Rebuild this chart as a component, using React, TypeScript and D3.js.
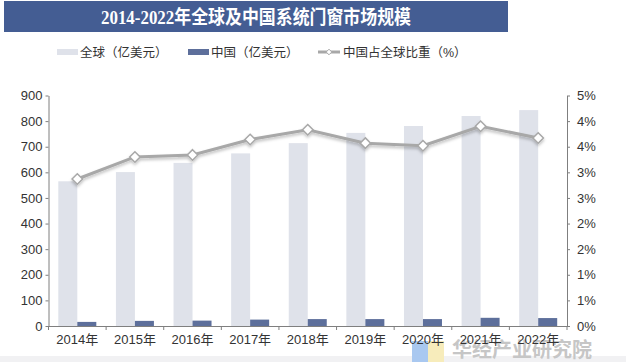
import { useEffect, useRef } from "react";
import * as d3 from "d3";

const years = ["2014年", "2015年", "2016年", "2017年", "2018年", "2019年", "2020年", "2021年", "2022年"];
const globalSize = [565, 601, 637, 674, 714, 754, 781, 820, 843];
const chinaSize = [16, 20, 21, 25, 27, 27, 27, 32, 31];
const chinaShare = [2.87, 3.3, 3.34, 3.64, 3.83, 3.57, 3.52, 3.9, 3.67];
const leftTicks = [0, 100, 200, 300, 400, 500, 600, 700, 800, 900];
const rightTicks = [0, 0.5, 1, 1.5, 2, 2.5, 3, 3.5, 4, 4.5];

const W = 626;
const H = 362;

export default function App() {
  const ref = useRef<SVGSVGElement | null>(null);

  useEffect(() => {
    if (!ref.current) return;
    const svg = d3.select(ref.current);
    svg.selectAll("*").remove();

    const margin = { top: 95.5, right: 59, bottom: 36, left: 48.5 };
    const cjk = "Liberation Sans, 'Noto Sans CJK SC', sans-serif";

    const defs = svg.append("defs");
    const f = defs
      .append("filter")
      .attr("id", "sh")
      .attr("x", "-10%")
      .attr("y", "-50%")
      .attr("width", "120%")
      .attr("height", "200%");
    f.append("feDropShadow")
      .attr("dx", 0)
      .attr("dy", 2)
      .attr("stdDeviation", 1.5)
      .attr("flood-color", "#000")
      .attr("flood-opacity", 0.25);

    svg.append("rect").attr("width", W).attr("height", H).attr("fill", "#fff");
    svg.append("rect").attr("x", 0).attr("y", 356).attr("width", W).attr("height", 6).attr("fill", "#f1f1f3");

    // title bar
    svg.append("rect").attr("x", 4).attr("y", 1).attr("width", 504).attr("height", 31).attr("fill", "#445d93");
    svg
      .append("text")
      .attr("x", 256)
      .attr("y", 24)
      .attr("text-anchor", "middle")
      .attr("fill", "#fff")
      .attr("font-size", 19)
      .attr("font-weight", "bold")
      .attr("font-family", "'Liberation Serif', 'Noto Sans CJK SC', serif")
      .attr("textLength", 310)
      .attr("lengthAdjust", "spacingAndGlyphs")
      .text("2014-2022年全球及中国系统门窗市场规模");

    // legend
    const lg = svg.append("g").attr("font-family", cjk).attr("font-size", 12.5).attr("fill", "#333");
    lg.append("rect").attr("x", 57).attr("y", 49).attr("width", 21).attr("height", 6).attr("fill", "#dfe2ea");
    lg.append("text").attr("x", 80).attr("y", 56.5).text("全球（亿美元）");
    lg.append("rect").attr("x", 188).attr("y", 49).attr("width", 21).attr("height", 6).attr("fill", "#5d6f9b");
    lg.append("text").attr("x", 211).attr("y", 56.5).text("中国（亿美元）");
    lg.append("line").attr("x1", 318).attr("x2", 340).attr("y1", 52).attr("y2", 52).attr("stroke", "#a8a8a8").attr("stroke-width", 3);
    lg.append("path")
      .attr("d", d3.symbol(d3.symbolDiamond2, 20)())
      .attr("transform", "translate(329,52)")
      .attr("fill", "#fff")
      .attr("stroke", "#a8a8a8")
      .attr("stroke-width", 1);
    lg.append("text").attr("x", 343).attr("y", 56.5).text("中国占全球比重（%）");

    const x = d3.scaleBand<string>().domain(years).range([margin.left, W - margin.right]);
    const yL = d3.scaleLinear().domain([0, 900]).range([H - margin.bottom, margin.top]);
    const yR = d3.scaleLinear().domain([0, 4.5]).range([H - margin.bottom, margin.top]);
    const bw = 19;

    // watermark
    svg.append("rect").attr("x", 412).attr("y", 341).attr("width", 16).attr("height", 21).attr("fill", "#a9c8f0");
    svg.append("rect").attr("x", 428).attr("y", 341).attr("width", 16).attr("height", 21).attr("fill", "#f7ecbb");
    svg
      .append("text")
      .attr("x", 452)
      .attr("y", 357)
      .attr("font-family", cjk)
      .attr("font-size", 20)
      .attr("font-weight", "bold")
      .attr("fill", "#c6c6c6")
      .text("华经产业研究院");

    const cx = (d: string) => (x(d) ?? 0) + x.bandwidth() / 2;

    svg
      .append("g")
      .selectAll("rect")
      .data(years)
      .join("rect")
      .attr("x", (d) => cx(d) - bw)
      .attr("width", bw)
      .attr("y", (_, i) => yL(globalSize[i]))
      .attr("height", (_, i) => yL(0) - yL(globalSize[i]))
      .attr("fill", "#dfe2ea");

    svg
      .append("g")
      .selectAll("rect")
      .data(years)
      .join("rect")
      .attr("x", (d) => cx(d))
      .attr("width", bw)
      .attr("y", (_, i) => yL(chinaSize[i]))
      .attr("height", (_, i) => yL(0) - yL(chinaSize[i]))
      .attr("fill", "#5d6f9b");

    // axes
    const axisStyle = (g: d3.Selection<SVGGElement, unknown, null, undefined>) => {
      g.select(".domain").attr("stroke", "#7f7f7f");
      g.selectAll(".tick line").attr("stroke", "#7f7f7f");
      g.selectAll(".tick text").attr("fill", "#333").attr("font-size", 13).attr("font-family", cjk);
    };

    svg
      .append("g")
      .attr("transform", `translate(${margin.left},0)`)
      .call(d3.axisLeft(yL).tickValues(leftTicks).tickSize(3).tickSizeOuter(0).tickPadding(3))
      .call(axisStyle);

    svg
      .append("g")
      .attr("transform", `translate(${W - margin.right},0)`)
      .call(
        d3
          .axisRight(yR)
          .tickValues(rightTicks)
          .tickSize(3)
          .tickSizeOuter(0)
          .tickPadding(7)
          .tickFormat((d) => `${Math.round(+d + 1e-9)}%`)
      )
      .call(axisStyle);

    const xg = svg
      .append("g")
      .attr("transform", `translate(0,${H - margin.bottom})`)
      .call(d3.axisBottom(x).tickSize(0).tickSizeOuter(0).tickPadding(9))
      .call(axisStyle);
    xg.append("g")
      .selectAll("line")
      .data(d3.range(years.length + 1))
      .join("line")
      .attr("x1", (i) => margin.left + x.step() * i)
      .attr("x2", (i) => margin.left + x.step() * i)
      .attr("y1", 0)
      .attr("y2", 4)
      .attr("stroke", "#7f7f7f");

    // line
    const line = d3
      .line<number>()
      .x((_, i) => cx(years[i]))
      .y((d) => yR(d));
    const lineG = svg.append("g").attr("filter", "url(#sh)");
    lineG
      .append("path")
      .datum(chinaShare)
      .attr("d", line)
      .attr("fill", "none")
      .attr("stroke", "#a8a8a8")
      .attr("stroke-width", 3);
    lineG
      .selectAll("path.m")
      .data(chinaShare)
      .join("path")
      .attr("class", "m")
      .attr("d", d3.symbol(d3.symbolDiamond2, 70)())
      .attr("transform", (d, i) => `translate(${cx(years[i])},${yR(d)})`)
      .attr("fill", "#fff")
      .attr("stroke", "#a8a8a8")
      .attr("stroke-width", 1.5);
  }, []);

  return (
    <svg
      ref={ref}
      width={W}
      height={H}
      style={{ position: "absolute", left: 0, top: 0 }}
      role="img"
      aria-label="2014-2022年全球及中国系统门窗市场规模"
    />
  );
}
